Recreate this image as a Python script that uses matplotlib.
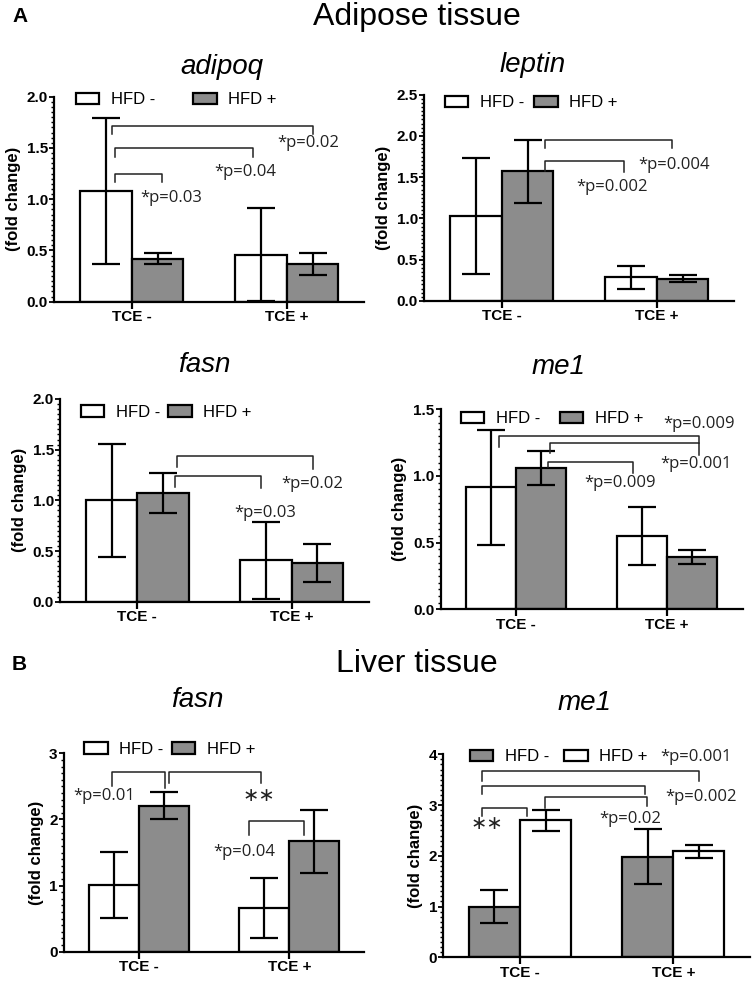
import matplotlib
matplotlib.use('Agg')
import matplotlib.pyplot as plt
from matplotlib.ticker import MultipleLocator, FormatStrFormatter

plt.rcParams['font.family'] = ['Liberation Sans', 'DejaVu Sans']

W, H = 755, 981

groups = ['TCE -', 'TCE +']
series = ['HFD -', 'HFD +']

# rows = HFD -, HFD + ; columns = TCE -, TCE +
adipoq_mean = [[1.08, 0.46], [0.42, 0.37]]
adipoq_sd = [[0.71, 0.45], [0.055, 0.105]]
leptin_mean = [[1.03, 0.29], [1.57, 0.27]]
leptin_sd = [[0.70, 0.14], [0.38, 0.045]]
fasn_adipose_mean = [[1.00, 0.41], [1.075, 0.38]]
fasn_adipose_sd = [[0.555, 0.38], [0.195, 0.19]]
me1_adipose_mean = [[0.915, 0.55], [1.06, 0.39]]
me1_adipose_sd = [[0.43, 0.215], [0.125, 0.052]]
fasn_liver_mean = [[1.01, 0.66], [2.21, 1.67]]
fasn_liver_sd = [[0.50, 0.46], [0.21, 0.48]]
me1_liver_mean = [[1.00, 1.98], [2.70, 2.09]]
me1_liver_sd = [[0.33, 0.545], [0.21, 0.13]]

WHITE = 'white'
GRAY = '#8c8c8c'

panels = [
    dict(title='adipoq', mean=adipoq_mean, sd=adipoq_sd, colors=[WHITE, GRAY],
         ymax=2.0, step=0.5, minor=0.05, fmt='%.1f',
         box=(131.7, 155, 96.7, 301.7), tpos=(221.7, 66.7),
         leg=(0.070, 0.985, 2.3),
         brackets=[(-0.108, 0.194, 1.25, 1.17, 1.17),
                   (-0.108, 0.783, 1.50, 1.41, 1.41),
                   (-0.129, 1.168, 1.71, 1.64, 1.64)],
         texts=[(0.258, 1.01, '*p=0.03'), (0.731, 1.27, '*p=0.04'), (1.14, 1.545, '*p=0.02')]),
    dict(title='leptin', mean=leptin_mean, sd=leptin_sd, colors=[WHITE, GRAY],
         ymax=2.5, step=0.5, minor=0.05, fmt='%.1f',
         box=(501.7, 155, 94.7, 301.0), tpos=(533, 65),
         leg=(0.067, 0.96, 0.6),
         brackets=[(0.28, 0.79, 1.70, 1.58, 1.565),
                   (0.28, 1.097, 1.95, 1.86, 1.86)],
         texts=[(0.715, 1.38, '*p=0.002'), (1.11, 1.65, '*p=0.004')]),
    dict(title='fasn', mean=fasn_adipose_mean, sd=fasn_adipose_sd, colors=[WHITE, GRAY],
         ymax=2.0, step=0.5, minor=0.05, fmt='%.1f',
         box=(137.3, 154.4, 399.0, 601.7), tpos=(204, 365),
         leg=(0.067, 0.935, 0.5),
         brackets=[(0.245, 0.80, 1.24, 1.13, 1.12),
                   (0.26, 1.14, 1.44, 1.33, 1.31)],
         texts=[(0.83, 0.88, '*p=0.03'), (1.13, 1.16, '*p=0.02')]),
    dict(title='me1', mean=me1_adipose_mean, sd=me1_adipose_sd, colors=[WHITE, GRAY],
         ymax=1.5, step=0.5, minor=0.05, fmt='%.1f',
         box=(516.0, 151, 409.3, 609.3), tpos=(558, 366.7),
         leg=(0.067, 0.953, 1.2),
         brackets=[(-0.113, 1.21, 1.30, 1.22, 1.25),
                   (0.226, 1.21, 1.244, 1.17, 1.16),
                   (0.215, 0.774, 1.103, 1.07, 1.02)],
         texts=[(1.21, 1.39, '*p=0.009'), (1.195, 1.09, '*p=0.001'), (0.69, 0.95, '*p=0.009')]),
    dict(title='fasn', mean=fasn_liver_mean, sd=fasn_liver_sd, colors=[WHITE, GRAY],
         ymax=3, step=1, minor=0.1, fmt='%d',
         box=(139.0, 150.3, 753.3, 951.7), tpos=(197, 700),
         leg=(0.068, 1.02, 0.5),
         brackets=[(-0.18, 0.173, 2.72, 2.50, 2.48),
                   (0.20, 0.81, 2.72, 2.55, 2.55),
                   (0.734, 1.10, 1.97, 1.765, 1.765)],
         texts=[(-0.234, 2.355, '*p=0.01'), (0.80, 2.355, '**'), (0.70, 1.50, '*p=0.04')]),
    dict(title='me1', mean=me1_liver_mean, sd=me1_liver_sd, colors=[GRAY, WHITE],
         ymax=4, step=1, minor=0.1, fmt='%d',
         box=(520.0, 153.3, 754.3, 957.3), tpos=(584, 703),
         leg=(0.087, 0.9875, 0.9),
         brackets=[(-0.246, 0.044, 2.95, 2.78, 2.78),
                   (0.163, 0.826, 3.16, 2.94, 2.98),
                   (-0.246, 0.815, 3.38, 3.22, 3.22),
                   (-0.246, 1.168, 3.68, 3.48, 3.48)],
         texts=[(-0.215, 2.64, '**'), (0.72, 2.72, '*p=0.02'),
                (1.18, 3.15, '*p=0.002'), (1.15, 3.95, '*p=0.001')]),
]

fig = plt.figure(figsize=(W / 100, H / 100), dpi=100)

# section headers
fig.text(12 / W, 1 - 17 / H, 'A', fontsize=15, fontweight='bold', ha='left', va='center')
fig.text(417 / W, 1 - 17 / H, 'Adipose tissue', fontsize=23, ha='center', va='center')
fig.text(12 / W, 1 - 665 / H, 'B', fontsize=15, fontweight='bold', ha='left', va='center')
fig.text(417 / W, 1 - 664 / H, 'Liver tissue', fontsize=23, ha='center', va='center')

offsets = [-0.1667, 0.1667]
bar_w = 0.333

for p in panels:
    t0, s, top, bottom = p['box']
    left = t0 - 0.5 * s
    ax = fig.add_axes([left / W, 1 - bottom / H, 2 * s / W, (bottom - top) / H])
    ax.set_xlim(-0.5, 1.5)
    ax.set_ylim(0, p['ymax'])

    for i, name in enumerate(series):
        xs = [g + offsets[i] for g in range(len(groups))]
        ax.bar(xs, p['mean'][i], width=bar_w, color=p['colors'][i], edgecolor='black',
               linewidth=1.6, label=name, zorder=2)
        ax.errorbar(xs, p['mean'][i], yerr=p['sd'][i], fmt='none', ecolor='black',
                    elinewidth=1.6, capsize=10, capthick=1.6, zorder=3)

    for x1, x2, y, yl, yr in p['brackets']:
        ax.plot([x1, x1, x2, x2], [yl, y, y, yr], color='#222222', lw=1.1, zorder=4,
                clip_on=False)
    for x, y, txt in p['texts']:
        if txt == '**':
            ax.text(x, y, '\u2217\u2217', fontsize=14, family=['DejaVu Sans'],
                    ha='center', va='center', color='#222222')
        else:
            ax.text(x, y, txt, fontsize=12, family=['Open Sans', 'DejaVu Sans'],
                    ha='center', va='center', color='#222222')

    lx, ly, colsp = p['leg']
    ax.legend(loc='center left', bbox_to_anchor=(lx, ly), ncol=2, frameon=False,
              fontsize=12, borderpad=0, borderaxespad=0, handlelength=1.4,
              handletextpad=0.7, columnspacing=colsp)

    ax.spines['top'].set_visible(False)
    ax.spines['right'].set_visible(False)
    ax.spines['left'].set_linewidth(1.6)
    ax.spines['bottom'].set_linewidth(1.6)

    ax.set_xticks(range(len(groups)))
    ax.set_xticklabels(groups, fontsize=11, fontweight='bold')
    ax.tick_params(axis='x', length=5, width=1.6, pad=1)

    ax.yaxis.set_major_locator(MultipleLocator(p['step']))
    ax.yaxis.set_minor_locator(MultipleLocator(p['minor']))
    ax.yaxis.set_major_formatter(FormatStrFormatter(p['fmt']))
    ax.tick_params(axis='y', which='major', length=3.5, width=1.3, pad=1, labelsize=11)
    ax.tick_params(axis='y', which='minor', length=2, width=1.0)
    for lab in ax.get_yticklabels():
        lab.set_fontweight('bold')
    ax.set_ylabel('(fold change)', fontsize=12, fontweight='bold', labelpad=4)

    tx, ty = p['tpos']
    fig.text(tx / W, 1 - ty / H, p['title'], fontsize=20, style='italic',
             ha='center', va='center')

fig.savefig('out.png', dpi=100)
